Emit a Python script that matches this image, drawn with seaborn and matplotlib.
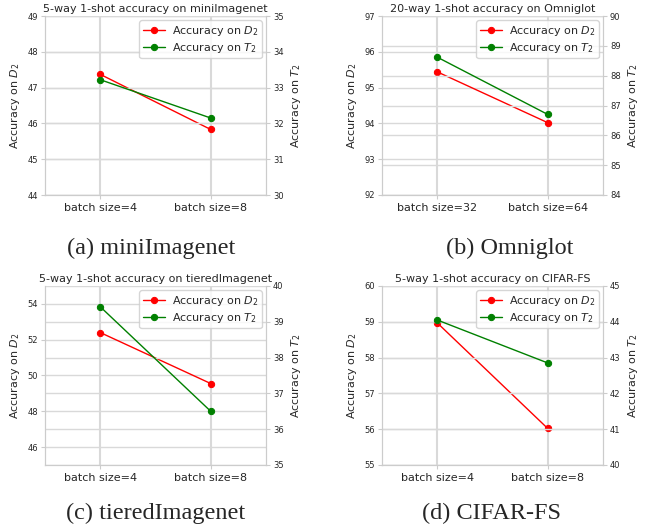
import matplotlib
matplotlib.use("Agg")
import matplotlib.pyplot as plt
import seaborn as sns

# values
mini_labels = ["batch size=4", "batch size=8"]
mini_d2 = [47.37, 45.83]
mini_t2 = [33.22, 32.15]

omni_labels = ["batch size=32", "batch size=64"]
omni_d2 = [95.44, 94.02]
omni_t2 = [88.62, 86.70]

tiered_labels = ["batch size=4", "batch size=8"]
tiered_d2 = [52.40, 49.55]
tiered_t2 = [39.42, 36.50]

cifar_labels = ["batch size=4", "batch size=8"]
cifar_d2 = [58.97, 56.02]
cifar_t2 = [44.05, 42.85]

sns.set_style("whitegrid", {"grid.color": ".85", "axes.edgecolor": ".8"})

fig = plt.figure(figsize=(6.49, 5.31), dpi=100)
W, H = 649.0, 531.0


def panel(px, py, labels, d2, t2, title, ylim1, ylim2, yticks1, yticks2, caption, cap_x, cap_y):
    # px, py: left/top pixel of the axes box
    ax = fig.add_axes([px / W, 1 - (py + 179) / H, 221 / W, 179 / H])
    ax2 = ax.twinx()
    sns.lineplot(x=labels, y=d2, ax=ax, color="red", marker="o", markersize=4.5,
                 markeredgecolor="red", linewidth=1, sort=False, label=r"Accuracy on $D_2$", legend=False)
    sns.lineplot(x=labels, y=t2, ax=ax2, color="green", marker="o", markersize=4.5,
                 markeredgecolor="green", linewidth=1, sort=False, label=r"Accuracy on $T_2$", legend=False)
    ax.set_xlim(-0.5, 1.5)
    ax.set_ylim(*ylim1)
    ax2.set_ylim(*ylim2)
    ax.set_yticks(yticks1)
    ax2.set_yticks(yticks2)
    ax.set_ylabel(r"Accuracy on $D_2$", fontsize=8)
    ax2.set_ylabel(r"Accuracy on $T_2$", fontsize=8)
    ax.set_title(title, fontsize=8, pad=3)
    ax.tick_params(axis="x", labelsize=8, bottom=True, length=3, color=".8", pad=3)
    ax.tick_params(axis="y", labelsize=6, left=True, length=3, color=".8", pad=2)
    ax2.tick_params(axis="y", labelsize=6, right=True, length=3, color=".8", pad=2)
    ax.grid(True, axis="both", color=".85", linewidth=1)
    ax2.grid(True, axis="y", color=".85", linewidth=1)
    ax.xaxis.grid(True, color=".85", linewidth=1.5)
    for a in (ax, ax2):
        a.spines["top"].set_visible(False)
    h1, l1 = ax.get_legend_handles_labels()
    h2, l2 = ax2.get_legend_handles_labels()
    ax2.legend(h1 + h2, l1 + l2, loc="upper right", fontsize=8, frameon=True,
               edgecolor=".8", borderpad=0.3, labelspacing=0.25, handlelength=2.0,
               handletextpad=0.6, borderaxespad=0.4)
    fig.text(cap_x / W, 1 - cap_y / H, caption, ha="center", va="center",
             fontsize=17.5, family="Liberation Serif")


panel(45, 16, mini_labels, mini_d2, mini_t2, "5-way 1-shot accuracy on miniImagenet",
      (44, 49), (30, 35), range(44, 50), range(30, 36), "(a) miniImagenet", 151, 248)
panel(382, 16, omni_labels, omni_d2, omni_t2, "20-way 1-shot accuracy on Omniglot",
      (92, 97), (84, 90), range(92, 98), range(84, 91), "(b) Omniglot", 510, 248)
panel(45, 286, tiered_labels, tiered_d2, tiered_t2, "5-way 1-shot accuracy on tieredImagenet",
      (45, 55), (35, 40), range(46, 55, 2), range(35, 41), "(c) tieredImagenet", 156, 513)
panel(382, 286, cifar_labels, cifar_d2, cifar_t2, "5-way 1-shot accuracy on CIFAR-FS",
      (55, 60), (40, 45), range(55, 61), range(40, 46), "(d) CIFAR-FS", 492, 513)

fig.savefig("out.png", dpi=100)
